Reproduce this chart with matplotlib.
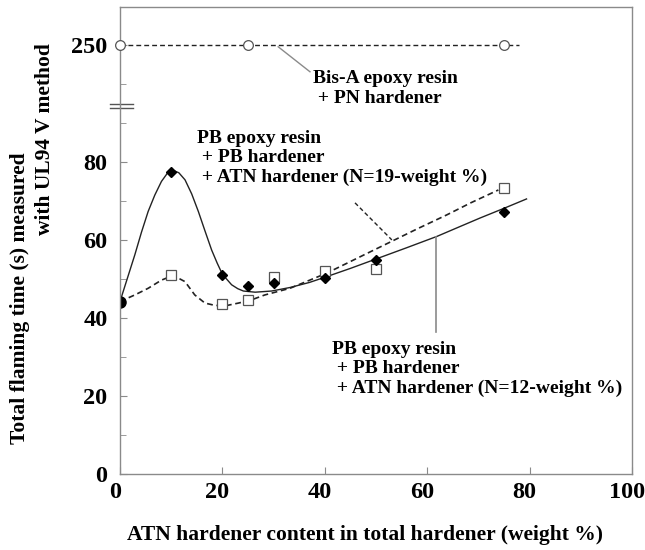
import matplotlib
matplotlib.use("Agg")
import matplotlib.pyplot as plt
from matplotlib.transforms import ScaledTranslation

# ATN hardener content (weight %) and total flaming time (s)
n12_x = [0, 10, 20, 25, 30, 40, 50, 75]
n12_y = [44, 77.5, 51.0, 48.2, 48.9, 50.2, 54.9, 67.1]
n19_x = [0, 10, 20, 25, 30, 40, 50, 75]
n19_y = [44, 50.9, 43.5, 44.6, 50.6, 52.1, 52.6, 73.3]
bisa_x = [0, 25, 75]
bisa_y = [250, 250, 250]

# fitted curves as drawn in the figure
fit12_x = [0, 1.4, 2.9, 4.2, 5.5, 6.8, 8.1, 9.2, 10.3, 11.5, 12.7, 14.0, 15.3,
           16.6, 17.9, 19.0, 20.0, 21.8, 23.0, 24.1, 26.4, 29.6, 33.2, 37.0,
           40.4, 45.0, 50.4, 56.0, 61.9, 66.0, 70.3, 75.0, 79.4]
fit12_y = [44.2, 50.0, 56.2, 62.0, 67.3, 71.5, 75.0, 77.0, 77.9, 77.2, 75.4,
           71.8, 67.3, 62.3, 57.4, 54.0, 51.2, 48.5, 47.5, 46.9, 46.6, 46.9,
           47.8, 49.1, 50.6, 52.7, 55.3, 58.0, 60.9, 63.2, 65.6, 68.1, 70.5]
fit19_x = [0, 2.9, 5.5, 8.1, 10.4, 12.7, 14.6, 16.6, 18.6, 20.9, 23.1, 25.6,
           28.3, 33.2, 40.4, 46.0, 52.7, 58.0, 63.8, 68.5, 73.9]
fit19_y = [44.2, 45.9, 47.6, 49.7, 50.9, 49.3, 45.9, 43.8, 43.2, 43.2, 43.8,
           44.6, 45.9, 47.6, 51.5, 55.1, 59.4, 62.8, 66.4, 69.5, 72.8]
bisa_line_x = [0, 78]

y_ticks = [0, 20, 40, 60, 80, 250]


def to_axis(v):
    # broken y axis: values above the break are shifted down by 140
    return v if v <= 90 else v - 140


plt.rcParams['font.family'] = ['Liberation Serif', 'DejaVu Serif']
plt.rcParams['font.weight'] = 'bold'

fig = plt.figure(figsize=(6.45, 5.5), dpi=100)
ax = fig.add_axes([120 / 645, 1 - 474 / 550, 512 / 645, 467 / 550])

grey = '#8a8a8a'

# fitted curves
ax.plot(fit12_x, fit12_y, '-', color='#222222', lw=1.0)
ax.plot(fit19_x, fit19_y, '--', color='#222222', lw=1.2, dashes=(3.5, 2.2))
ax.plot(bisa_line_x, [to_axis(bisa_y[0])] * 2, '--', color='#222222', lw=1.0,
        dashes=(3.5, 2.2))

# data points
ax.plot(n19_x[1:], n19_y[1:], 's', ms=7, mfc='white', mec='#555555', mew=0.9)
ax.plot(n12_x[1:], n12_y[1:], 'D', ms=5, color='black')
ax.plot(n12_x[:1], n12_y[:1], 'o', ms=8, color='black')
ax.plot(bisa_x, [to_axis(v) for v in bisa_y], 'o', ms=7, mfc='white',
        mec='#555555', mew=0.9, clip_on=False, zorder=5)

# annotations
fs = 14
ax.text(37.7, 98.8, 'Bis-A epoxy resin\n + PN hardener', fontsize=fs,
        ha='left', va='center', fontweight='bold')
ax.plot([30.9, 37.1], [109.5, 103.1], color=grey, lw=1)
ax.text(15.0, 81.0, 'PB epoxy resin\n + PB hardener\n + ATN hardener (N=19-weight %)',
        fontsize=fs, ha='left', va='center', fontweight='bold')
ax.plot([45.9, 53.1], [69.5, 60.0], '--', color='#222222', lw=1,
        dashes=(3, 2))
ax.text(41.4, 26.9, 'PB epoxy resin\n + PB hardener\n + ATN hardener (N=12-weight %)',
        fontsize=fs, ha='left', va='center', fontweight='bold')
ax.plot([61.7, 61.7], [60.8, 36.4], color=grey, lw=1.2)

# axes
ax.set_xlim(0, 100)
ax.set_ylim(0, 119.7)
ax.set_xticks([0, 20, 40, 60, 80, 100])
ax.set_yticks([to_axis(v) for v in y_ticks])
ax.set_yticklabels([str(v) for v in y_ticks])
ax.set_yticks([10, 30, 50, 70, 90, 100], minor=True)
ax.tick_params(axis='both', which='both', direction='in', color=grey,
               labelsize=17.5)
ax.tick_params(axis='both', which='major', length=5)
ax.tick_params(axis='y', which='minor', length=4)
ax.tick_params(axis='x', pad=6)
ax.tick_params(axis='y', pad=9)
for lab in ax.get_xticklabels():
    lab.set_fontweight('bold')
    lab.set_transform(lab.get_transform() +
                      ScaledTranslation(-5 / 100, 0, fig.dpi_scale_trans))
for lab in ax.get_yticklabels():
    lab.set_fontweight('bold')
for s in ax.spines.values():
    s.set_color(grey)
    s.set_linewidth(1)

# axis break marks
bt = ax.get_yaxis_transform()
for yb in (94.9, 93.7):
    ax.plot([-0.02, 0.025], [yb, yb], color='#555555', lw=1,
            transform=bt, clip_on=False)

fig.text(365 / 645, 1 - 535 / 550,
         'ATN hardener content in total hardener (weight %)',
         fontsize=15.5, fontweight='bold', ha='center', va='center')
fig.text(20 / 645, 1 - 298 / 550, 'Total flaming time (s) measured',
         fontsize=15.5, fontweight='bold', ha='center', va='center',
         rotation=90)
fig.text(45 / 645, 1 - 139 / 550, 'with UL94 V method',
         fontsize=15.5, fontweight='bold', ha='center', va='center',
         rotation=90)

fig.savefig('out.png', dpi=100)
